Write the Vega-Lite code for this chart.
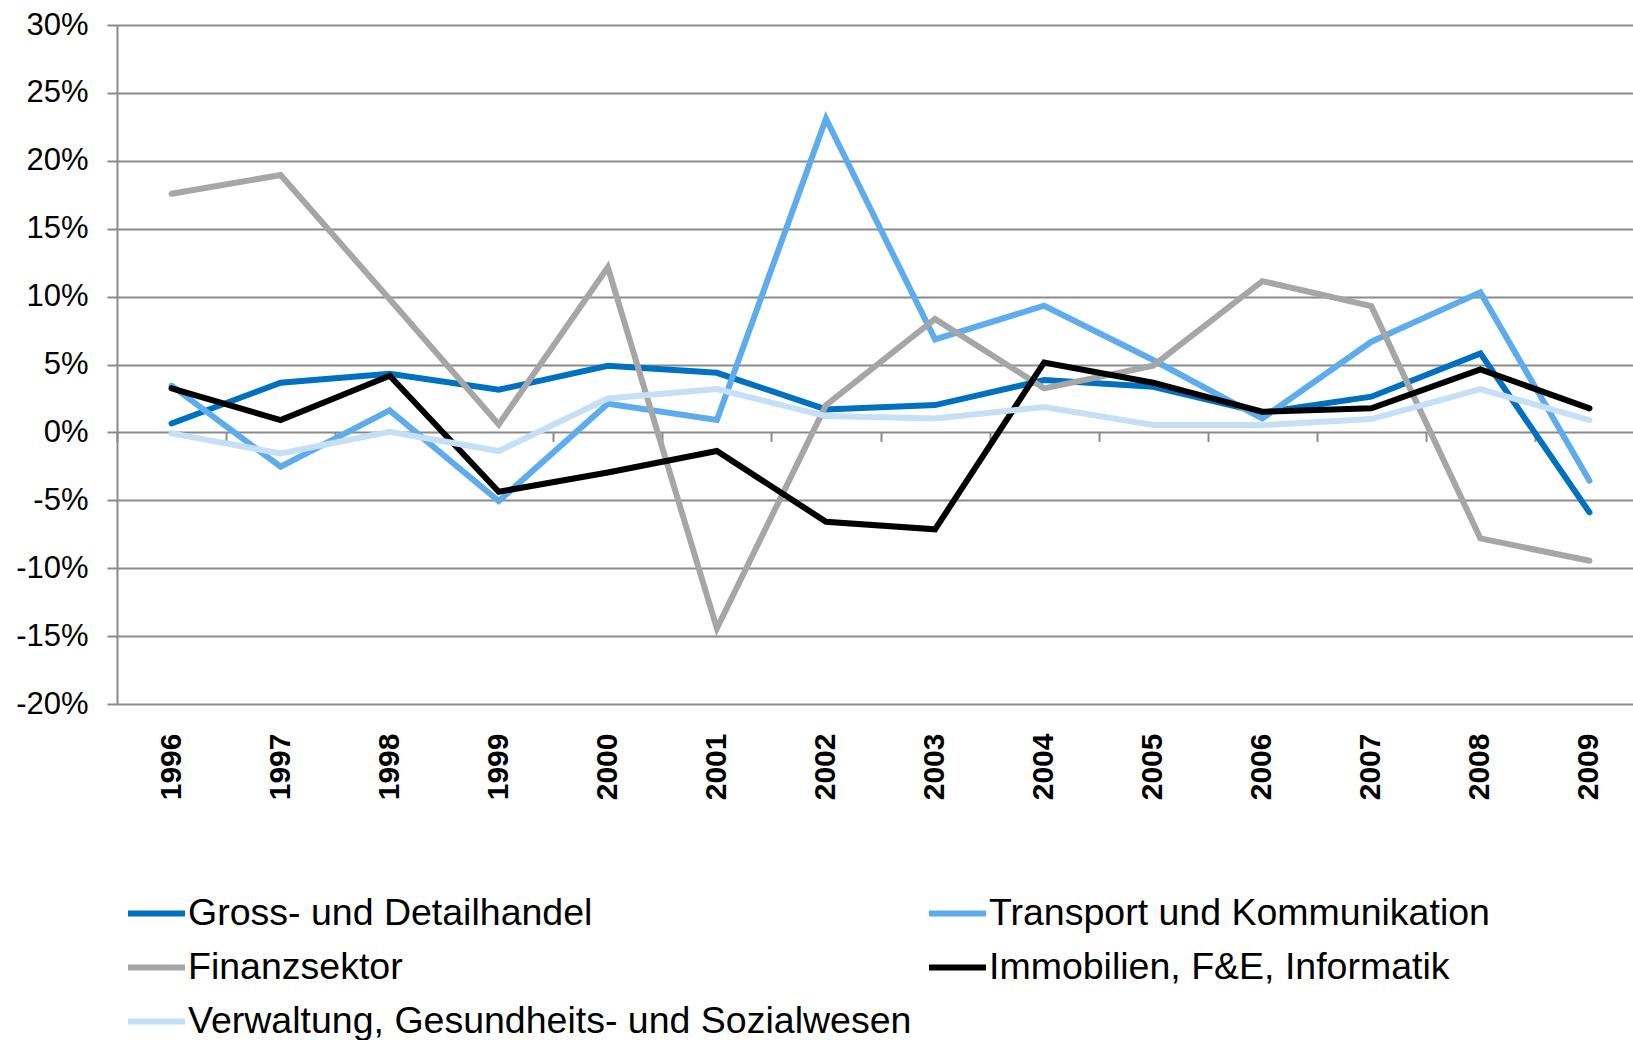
{
  "$schema": "https://vega.github.io/schema/vega-lite/v6.json",
  "autosize": "none",
  "padding": {"left": 117, "top": 25, "right": 0, "bottom": 336},
  "width": 1527,
  "height": 679,
  "background": "white",
  "config": {"view": {"stroke": null}, "font": "Liberation Sans"},
  "datasets": {
    "d": [
      {"year": "1996", "series": "Gross- und Detailhandel", "value": 0.66},
      {"year": "1997", "series": "Gross- und Detailhandel", "value": 3.66},
      {"year": "1998", "series": "Gross- und Detailhandel", "value": 4.32},
      {"year": "1999", "series": "Gross- und Detailhandel", "value": 3.14},
      {"year": "2000", "series": "Gross- und Detailhandel", "value": 4.91},
      {"year": "2001", "series": "Gross- und Detailhandel", "value": 4.39},
      {"year": "2002", "series": "Gross- und Detailhandel", "value": 1.69},
      {"year": "2003", "series": "Gross- und Detailhandel", "value": 2.01},
      {"year": "2004", "series": "Gross- und Detailhandel", "value": 3.85},
      {"year": "2005", "series": "Gross- und Detailhandel", "value": 3.36},
      {"year": "2006", "series": "Gross- und Detailhandel", "value": 1.45},
      {"year": "2007", "series": "Gross- und Detailhandel", "value": 2.63},
      {"year": "2008", "series": "Gross- und Detailhandel", "value": 5.82},
      {"year": "2009", "series": "Gross- und Detailhandel", "value": -5.89},
      {"year": "1996", "series": "Transport und Kommunikation", "value": 3.44},
      {"year": "1997", "series": "Transport und Kommunikation", "value": -2.53},
      {"year": "1998", "series": "Transport und Kommunikation", "value": 1.62},
      {"year": "1999", "series": "Transport und Kommunikation", "value": -5.06},
      {"year": "2000", "series": "Transport und Kommunikation", "value": 2.11},
      {"year": "2001", "series": "Transport und Kommunikation", "value": 0.91},
      {"year": "2002", "series": "Transport und Kommunikation", "value": 23.1},
      {"year": "2003", "series": "Transport und Kommunikation", "value": 6.85},
      {"year": "2004", "series": "Transport und Kommunikation", "value": 9.33},
      {"year": "2005", "series": "Transport und Kommunikation", "value": 5.33},
      {"year": "2006", "series": "Transport und Kommunikation", "value": 1.03},
      {"year": "2007", "series": "Transport und Kommunikation", "value": 6.68},
      {"year": "2008", "series": "Transport und Kommunikation", "value": 10.31},
      {"year": "2009", "series": "Transport und Kommunikation", "value": -3.56},
      {"year": "1996", "series": "Finanzsektor", "value": 17.57},
      {"year": "1997", "series": "Finanzsektor", "value": 18.95},
      {"year": "1998", "series": "Finanzsektor", "value": 9.8},
      {"year": "1999", "series": "Finanzsektor", "value": 0.59},
      {"year": "2000", "series": "Finanzsektor", "value": 12.15},
      {"year": "2001", "series": "Finanzsektor", "value": -14.43},
      {"year": "2002", "series": "Finanzsektor", "value": 2.01},
      {"year": "2003", "series": "Finanzsektor", "value": 8.35},
      {"year": "2004", "series": "Finanzsektor", "value": 3.24},
      {"year": "2005", "series": "Finanzsektor", "value": 4.91},
      {"year": "2006", "series": "Finanzsektor", "value": 11.14},
      {"year": "2007", "series": "Finanzsektor", "value": 9.3},
      {"year": "2008", "series": "Finanzsektor", "value": -7.81},
      {"year": "2009", "series": "Finanzsektor", "value": -9.45},
      {"year": "1996", "series": "Immobilien, F&E, Informatik", "value": 3.24},
      {"year": "1997", "series": "Immobilien, F&E, Informatik", "value": 0.91},
      {"year": "1998", "series": "Immobilien, F&E, Informatik", "value": 4.17},
      {"year": "1999", "series": "Immobilien, F&E, Informatik", "value": -4.37},
      {"year": "2000", "series": "Immobilien, F&E, Informatik", "value": -2.95},
      {"year": "2001", "series": "Immobilien, F&E, Informatik", "value": -1.37},
      {"year": "2002", "series": "Immobilien, F&E, Informatik", "value": -6.58},
      {"year": "2003", "series": "Immobilien, F&E, Informatik", "value": -7.14},
      {"year": "2004", "series": "Immobilien, F&E, Informatik", "value": 5.15},
      {"year": "2005", "series": "Immobilien, F&E, Informatik", "value": 3.66},
      {"year": "2006", "series": "Immobilien, F&E, Informatik", "value": 1.52},
      {"year": "2007", "series": "Immobilien, F&E, Informatik", "value": 1.77},
      {"year": "2008", "series": "Immobilien, F&E, Informatik", "value": 4.64},
      {"year": "2009", "series": "Immobilien, F&E, Informatik", "value": 1.77},
      {"year": "1996", "series": "Verwaltung, Gesundheits- und Sozialwesen", "value": -0.07},
      {"year": "1997", "series": "Verwaltung, Gesundheits- und Sozialwesen", "value": -1.55},
      {"year": "1998", "series": "Verwaltung, Gesundheits- und Sozialwesen", "value": 0.05},
      {"year": "1999", "series": "Verwaltung, Gesundheits- und Sozialwesen", "value": -1.37},
      {"year": "2000", "series": "Verwaltung, Gesundheits- und Sozialwesen", "value": 2.5},
      {"year": "2001", "series": "Verwaltung, Gesundheits- und Sozialwesen", "value": 3.19},
      {"year": "2002", "series": "Verwaltung, Gesundheits- und Sozialwesen", "value": 1.2},
      {"year": "2003", "series": "Verwaltung, Gesundheits- und Sozialwesen", "value": 1.03},
      {"year": "2004", "series": "Verwaltung, Gesundheits- und Sozialwesen", "value": 1.87},
      {"year": "2005", "series": "Verwaltung, Gesundheits- und Sozialwesen", "value": 0.54},
      {"year": "2006", "series": "Verwaltung, Gesundheits- und Sozialwesen", "value": 0.54},
      {"year": "2007", "series": "Verwaltung, Gesundheits- und Sozialwesen", "value": 0.98},
      {"year": "2008", "series": "Verwaltung, Gesundheits- und Sozialwesen", "value": 3.19},
      {"year": "2009", "series": "Verwaltung, Gesundheits- und Sozialwesen", "value": 0.91}
    ]
  },
  "data": {"name": "d"},
  "layer": [
    {
      "mark": {"type": "line", "strokeOpacity": 0},
      "encoding": {
        "x": {
          "field": "year", "type": "ordinal", "sort": "ascending",
          "scale": {"type": "band", "paddingInner": 0, "paddingOuter": 0},
          "axis": {
            "orient": "bottom", "offset": -271.6, "title": null, "labels": false,
            "domain": false, "grid": false, "ticks": true, "tickBand": "extent",
            "tickSize": 9, "tickWidth": 2, "tickColor": "#8a8a8a"
          }
        },
        "y": {
          "field": "value", "type": "quantitative",
          "scale": {"domain": [-20, 30], "nice": false, "zero": false},
          "axis": {
            "title": null, "values": [-20, -15, -10, -5, 0, 5, 10, 15, 20, 25, 30],
            "labelExpr": "datum.value + '%'", "labelFont": "Liberation Sans",
            "labelFontSize": 31, "labelColor": "#000000", "labelPadding": 19,
            "tickSize": 10, "tickWidth": 2, "tickColor": "#8a8a8a",
            "domainColor": "#8a8a8a", "domainWidth": 2,
            "grid": true, "gridColor": "#8a8a8a", "gridWidth": 2
          }
        },
        "detail": {"field": "series", "type": "nominal"}
      }
    },
    {
      "mark": {"type": "line", "strokeWidth": 6, "strokeCap": "round"},
      "encoding": {
        "x": {
          "field": "year", "type": "ordinal", "sort": "ascending",
          "scale": {"type": "band", "paddingInner": 0, "paddingOuter": 0},
          "axis": {
            "orient": "bottom", "title": null, "labelAngle": -90,
            "labelFont": "Liberation Sans", "labelFontSize": 30, "labelFontWeight": "bold",
            "labelColor": "#000000", "labelPadding": 29, "ticks": false,
            "domain": false, "grid": false
          }
        },
        "y": {
          "field": "value", "type": "quantitative",
          "scale": {"domain": [-20, 30], "nice": false, "zero": false},
          "axis": {
            "title": null, "values": [-20, -15, -10, -5, 0, 5, 10, 15, 20, 25, 30],
            "labelExpr": "datum.value + '%'", "labelFont": "Liberation Sans",
            "labelFontSize": 31, "labelColor": "#000000", "labelPadding": 19,
            "tickSize": 10, "tickWidth": 2, "tickColor": "#8a8a8a",
            "domainColor": "#8a8a8a", "domainWidth": 2,
            "grid": true, "gridColor": "#8a8a8a", "gridWidth": 2
          }
        },
        "color": {
          "field": "series", "type": "nominal",
          "scale": {
            "domain": ["Gross- und Detailhandel", "Finanzsektor", "Verwaltung, Gesundheits- und Sozialwesen", "Transport und Kommunikation", "Immobilien, F&E, Informatik"],
            "range": ["#0070C0", "#A6A6A6", "#C5E0F6", "#5DADEC", "#000000"]
          },
          "legend": {
            "orient": "none", "legendX": 8, "legendY": 857, "columns": 2,
            "title": null, "padding": 0, "symbolType": "stroke", "symbolSize": 3249,
            "symbolStrokeWidth": 6, "labelFont": "Liberation Sans", "labelFontSize": 37.5,
            "labelColor": "#000000", "labelLimit": 1000, "labelOffset": 0,
            "rowPadding": 4, "columnPadding": 5
          }
        }
      }
    }
  ],
  "resolve": {"axis": {"x": "independent"}}
}
